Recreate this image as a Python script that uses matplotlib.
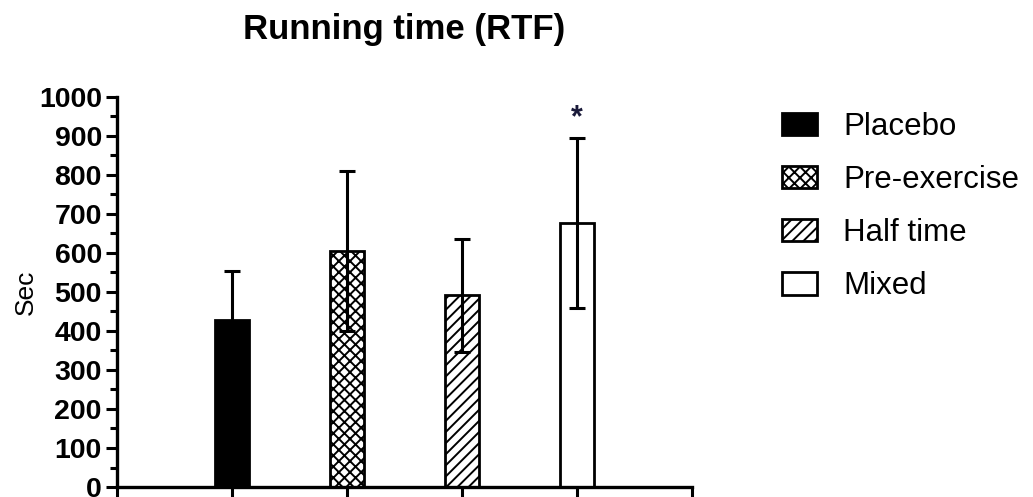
import numpy as np
import matplotlib
matplotlib.use('Agg')
import matplotlib.pyplot as plt

groups = ['Placebo', 'Pre-exercise', 'Half time', 'Mixed']
means = [427, 605, 492, 676]
sds = [128, 205, 145, 218]
hatches = ['', 'xxx', '///', '']
faces = ['black', 'white', 'white', 'white']
star_group = 3
star_y = 945

plt.rcParams['font.family'] = ['Liberation Sans', 'DejaVu Sans']
plt.rcParams['hatch.linewidth'] = 1.4

fig = plt.figure(figsize=(10.33, 4.97), dpi=100)
ax = fig.add_axes([0.1133, 0.0201, 0.5567, 0.7849])

x = np.arange(1, len(groups) + 1)
bars = ax.bar(x, means, width=0.3, color=faces, edgecolor='black',
              linewidth=2.0, zorder=2)
for b, h, g in zip(bars, hatches, groups):
    b.set_hatch(h)
    b.set_label(g)
ax.errorbar(x, means, yerr=sds, fmt='none', ecolor='black', elinewidth=2.2,
            capsize=5.5, capthick=2.2, zorder=3)

ax.text(x[star_group], star_y, '*', ha='center', va='center',
        fontsize=22, fontweight='bold', color='#1a1a3a')

ax.set_xlim(0, 5)
ax.set_ylim(0, 1000)
ax.set_xticks(np.arange(0, 6))
ax.set_xticklabels([])
ax.set_yticks(np.arange(0, 1001, 100))
ax.set_yticks(np.arange(50, 1000, 100), minor=True)
for lab in ax.get_yticklabels():
    lab.set_fontweight('bold')
ax.tick_params(axis='y', which='major', labelsize=20.5, length=8, width=2.2, pad=3)
ax.tick_params(axis='y', which='minor', length=5, width=2.2)
ax.tick_params(axis='x', which='major', length=8, width=2.2)
for s in ['top', 'right']:
    ax.spines[s].set_visible(False)
for s in ['left', 'bottom']:
    ax.spines[s].set_linewidth(2.4)

ax.set_ylabel('Sec', fontsize=19, labelpad=1)
ax.set_title('Running time (RTF)', fontsize=25, fontweight='bold', pad=42)

fig.legend(handles=list(bars), labels=groups, loc='upper left',
           bbox_to_anchor=(0.745, 0.80), frameon=False, fontsize=22.5,
           handlelength=1.11, handleheight=0.73, handletextpad=0.85,
           labelspacing=0.74, borderaxespad=0)

fig.savefig('out.png', dpi=100)
